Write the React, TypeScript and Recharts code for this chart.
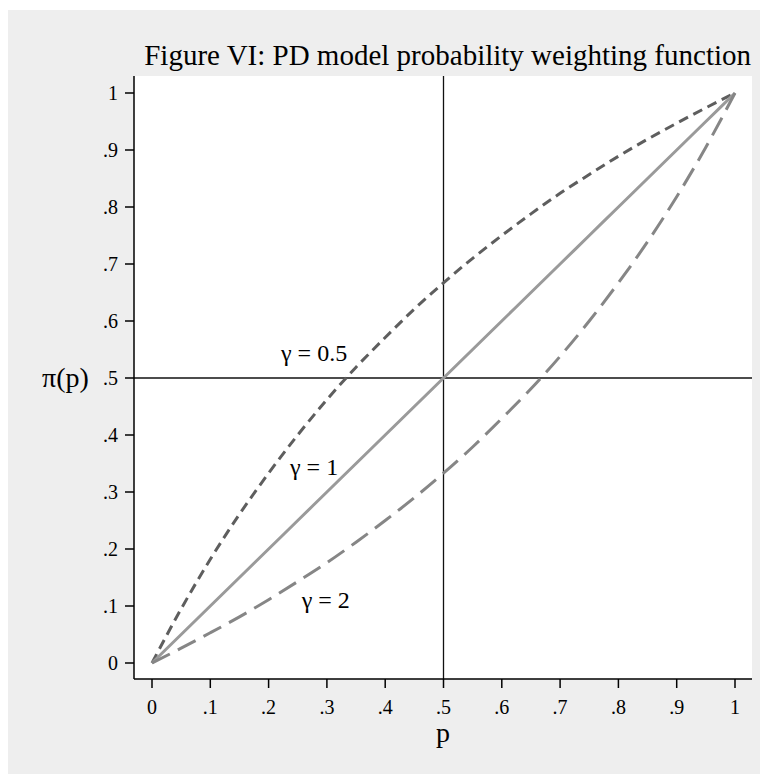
import React from "react";
import {
  LineChart,
  Line,
  XAxis,
  YAxis,
  CartesianGrid,
  ReferenceLine,
  ReferenceDot,
} from "recharts";

const pValues = [0, 0.05, 0.1, 0.15, 0.2, 0.25, 0.3, 0.35, 0.4, 0.45, 0.5, 0.55, 0.6, 0.65, 0.7, 0.75, 0.8, 0.85, 0.9, 0.95, 1];
const gammaHalf = [0, 0.095, 0.182, 0.261, 0.333, 0.4, 0.462, 0.519, 0.571, 0.621, 0.667, 0.71, 0.75, 0.788, 0.824, 0.857, 0.889, 0.919, 0.947, 0.974, 1];
const gammaOne = [0, 0.05, 0.1, 0.15, 0.2, 0.25, 0.3, 0.35, 0.4, 0.45, 0.5, 0.55, 0.6, 0.65, 0.7, 0.75, 0.8, 0.85, 0.9, 0.95, 1];
const gammaTwo = [0, 0.026, 0.053, 0.081, 0.111, 0.143, 0.176, 0.212, 0.25, 0.29, 0.333, 0.379, 0.429, 0.481, 0.538, 0.6, 0.667, 0.739, 0.818, 0.905, 1];

const tickValues = [0, 0.1, 0.2, 0.3, 0.4, 0.5, 0.6, 0.7, 0.8, 0.9, 1];
const tickLabels = ["0", ".1", ".2", ".3", ".4", ".5", ".6", ".7", ".8", ".9", "1"];

const curveLabels = [
  { text: "γ = 0.5", p: 0.278, v: 0.544 },
  { text: "γ = 1", p: 0.278, v: 0.344 },
  { text: "γ = 2", p: 0.298, v: 0.112 },
];

const title = "Figure VI: PD model probability weighting function";
const xTitle = "p";
const yTitle = "π(p)";

const data = pValues.map((p, i) => ({
  p,
  g05: gammaHalf[i],
  g1: gammaOne[i],
  g2: gammaTwo[i],
}));

const FONT = "'Liberation Serif', 'Times New Roman', serif";
const fmt = (v: number) => {
  const idx = tickValues.findIndex((t) => Math.abs(t - v) < 1e-9);
  return idx >= 0 ? tickLabels[idx] : String(v);
};

const XTick = (props: any) => (
  <text
    x={props.x}
    y={props.y}
    dy="0.71em"
    textAnchor="middle"
    fontSize={20}
    fontFamily={FONT}
    fill="#000"
  >
    {fmt(props.payload.value)}
  </text>
);

const YTick = (props: any) => (
  <text
    x={props.x}
    y={props.y}
    dy="0.35em"
    textAnchor="end"
    fontSize={20}
    fontFamily={FONT}
    fill="#000"
  >
    {fmt(props.payload.value)}
  </text>
);

const XLabel = (props: any) => {
  const vb = props.viewBox || {};
  return (
    <text
      x={vb.x + vb.width / 2}
      y={vb.y + vb.height - 32}
      textAnchor="middle"
      fontSize={28}
      fontFamily={FONT}
      fill="#000"
    >
      {xTitle}
    </text>
  );
};

const YLabel = (props: any) => {
  const vb = props.viewBox || {};
  return (
    <text
      x={vb.x + 35}
      y={vb.y + vb.height / 2}
      dy="0.35em"
      textAnchor="start"
      fontSize={28}
      fontFamily={FONT}
      fill="#000"
    >
      {yTitle}
    </text>
  );
};

const makeLabelShape = (txt: string) => (props: any) => (
  <text
    x={props.cx}
    y={props.cy}
    dy="0.35em"
    textAnchor="middle"
    fontSize={24}
    fontFamily={FONT}
    fill="#000"
  >
    {txt}
  </text>
);

export default function App() {
  return (
    <div
      style={{
        marginLeft: -1,
        marginTop: 2,
        width: 761,
        height: 764,
        background: "#eeeeee",
        fontFamily: FONT,
      }}
    >
      <LineChart
        width={761}
        height={764}
        data={data}
        margin={{ top: 66, right: 16, left: 0, bottom: 0 }}
      >
        <CartesianGrid fill="#ffffff" stroke="none" horizontal={false} vertical={false} />
        <XAxis
          dataKey="p"
          type="number"
          domain={[0, 1]}
          ticks={tickValues}
          padding={{ left: 18, right: 17 }}
          height={95}
          tickSize={9}
          tickMargin={12}
          stroke="#000"
          axisLine={{ stroke: "#000", strokeWidth: 1.5 }}
          tickLine={{ stroke: "#000", strokeWidth: 1.5 }}
          tick={<XTick />}
          label={<XLabel />}
        />
        <YAxis
          type="number"
          domain={[0, 1]}
          ticks={tickValues}
          padding={{ top: 17, bottom: 16 }}
          width={127}
          tickSize={9}
          tickMargin={7}
          stroke="#000"
          axisLine={{ stroke: "#000", strokeWidth: 1.5 }}
          tickLine={{ stroke: "#000", strokeWidth: 1.5 }}
          tick={<YTick />}
          label={<YLabel />}
        />
        <ReferenceLine x={0.5} stroke="#111" strokeWidth={1.3} />
        <ReferenceLine y={0.5} stroke="#111" strokeWidth={1.3} />
        <Line
          type="monotone"
          dataKey="g05"
          stroke="#5e5e5e"
          strokeWidth={3}
          strokeDasharray="10 6"
          dot={false}
          isAnimationActive={false}
        />
        <Line
          type="monotone"
          dataKey="g1"
          stroke="#9a9a9a"
          strokeWidth={3}
          dot={false}
          isAnimationActive={false}
        />
        <Line
          type="monotone"
          dataKey="g2"
          stroke="#868686"
          strokeWidth={3}
          strokeDasharray="20 9"
          dot={false}
          isAnimationActive={false}
        />
        {curveLabels.map((l) => (
          <ReferenceDot
            key={l.text}
            x={l.p}
            y={l.v}
            r={1}
            shape={makeLabelShape(l.text)}
          />
        ))}
        <text
          x={744}
          y={55}
          textAnchor="end"
          fontSize={29}
          fontFamily={FONT}
          fill="#000"
        >
          {title}
        </text>
      </LineChart>
    </div>
  );
}
